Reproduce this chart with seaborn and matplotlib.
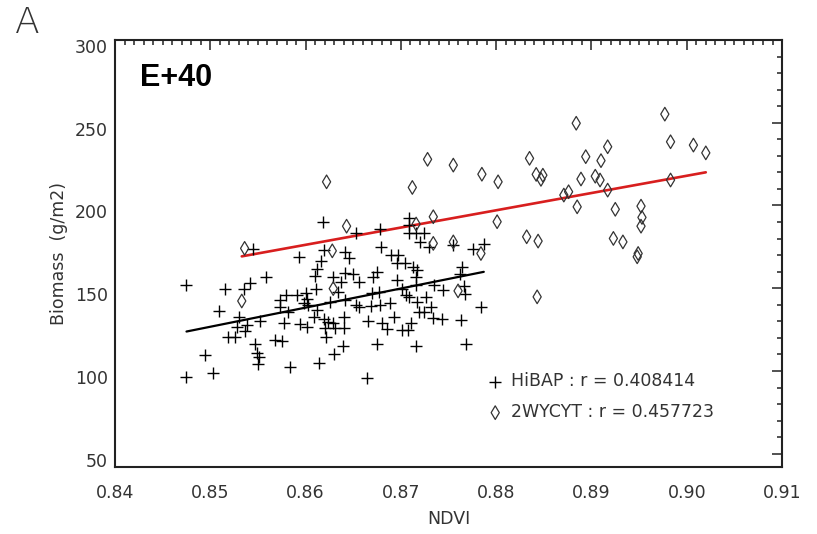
import pandas as pd
import seaborn as sns
import matplotlib.pyplot as plt
import matplotlib.transforms as mtransforms
from matplotlib.ticker import MultipleLocator, FormatStrFormatter

# HiBAP panel (+ markers)
hibap_ndvi = [
    0.8618, 0.8545, 0.8593, 0.8558, 0.8475, 0.8515, 0.8535, 0.8542, 0.8619, 0.8616,
    0.8612, 0.8610, 0.8611, 0.8509, 0.8579, 0.8591, 0.8600, 0.8601, 0.8573, 0.8573,
    0.8581, 0.8598, 0.8603, 0.8612, 0.8609, 0.8530, 0.8552, 0.8528, 0.8538, 0.8536,
    0.8519, 0.8526, 0.8577, 0.8594, 0.8601, 0.8619, 0.8620, 0.8621, 0.8568, 0.8575,
    0.8547, 0.8549, 0.8551, 0.8550, 0.8494, 0.8503, 0.8475, 0.8584, 0.8614, 0.8653,
    0.8678, 0.8709, 0.8709, 0.8708, 0.8716, 0.8724, 0.8720, 0.8729, 0.8755, 0.8776,
    0.8787, 0.8679, 0.8641, 0.8646, 0.8690, 0.8697, 0.8696, 0.8704, 0.8713, 0.8717,
    0.8764, 0.8762, 0.8675, 0.8671, 0.8641, 0.8650, 0.8629, 0.8656, 0.8637, 0.8696,
    0.8701, 0.8716, 0.8716, 0.8735, 0.8744, 0.8766, 0.8767, 0.8634, 0.8641, 0.8626,
    0.8670, 0.8677, 0.8678, 0.8669, 0.8689, 0.8653, 0.8656, 0.8705, 0.8708, 0.8717,
    0.8726, 0.8719, 0.8724, 0.8732, 0.8734, 0.8743, 0.8784, 0.8763, 0.8624, 0.8629,
    0.8631, 0.8640, 0.8640, 0.8665, 0.8680, 0.8685, 0.8693, 0.8701, 0.8707, 0.8711,
    0.8675, 0.8716, 0.8768, 0.8639, 0.8630, 0.8664,
]
hibap_biomass = [
    190.2, 173.5, 168.6, 156.9, 151.9, 149.8, 149.8, 152.9, 173.0, 166.6,
    161.4, 157.3, 149.8, 136.4, 145.8, 145.8, 146.9, 143.3, 142.9, 138.8,
    135.8, 140.8, 139.8, 136.8, 132.7, 132.7, 130.3, 126.6, 127.7, 124.2,
    120.3, 120.3, 128.8, 128.3, 126.6, 131.7, 125.7, 120.7, 118.6, 118.2,
    116.6, 110.6, 108.2, 104.5, 109.5, 98.9, 96.4, 102.5, 104.9, 183.2,
    185.5, 192.2, 188.1, 183.2, 183.2, 183.2, 178.0, 175.1, 176.1, 173.5,
    176.7, 175.1, 172.0, 168.0, 170.0, 170.0, 165.0, 165.0, 162.9, 161.0,
    162.9, 158.6, 159.9, 156.9, 159.0, 158.6, 156.9, 153.9, 153.9, 154.9,
    149.8, 156.5, 151.9, 151.9, 148.8, 151.3, 146.4, 147.8, 142.9, 141.7,
    146.9, 147.8, 139.8, 139.2, 140.8, 139.8, 138.4, 145.8, 144.5, 141.7,
    144.8, 135.8, 135.8, 138.4, 132.3, 131.7, 138.4, 131.1, 129.7, 128.8,
    125.7, 132.7, 125.7, 130.3, 129.1, 125.1, 132.7, 124.7, 124.7, 128.8,
    116.6, 115.2, 116.2, 115.2, 110.1, 96.0,
]

# 2WYCYT panel (diamond markers)
wycyt_ndvi = [
    0.8536, 0.8533, 0.8643, 0.8716, 0.8734, 0.8734, 0.8755, 0.8784, 0.8801, 0.8628,
    0.8629, 0.8760, 0.8622, 0.8728, 0.8755, 0.8712, 0.8785, 0.8802, 0.8977, 0.8884,
    0.8983, 0.9007, 0.9020, 0.8917, 0.8835, 0.8894, 0.8910, 0.8842, 0.8849, 0.8847,
    0.8889, 0.8904, 0.8909, 0.8876, 0.8871, 0.8917, 0.8983, 0.8885, 0.8925, 0.8952,
    0.8953, 0.8952, 0.8832, 0.8844, 0.8923, 0.8933, 0.8949, 0.8948, 0.8843,
]
wycyt_biomass = [
    174.1, 142.3, 187.5, 188.8, 193.2, 177.1, 178.0, 171.0, 190.2, 172.6,
    149.8, 148.4, 214.3, 227.9, 224.4, 210.9, 218.9, 214.3, 255.2, 249.7,
    238.5, 236.5, 231.8, 235.5, 228.5, 229.5, 227.1, 218.8, 218.3, 215.8,
    216.0, 217.7, 215.4, 208.3, 206.3, 209.3, 215.4, 199.2, 197.7, 199.6,
    192.8, 187.5, 181.1, 178.5, 180.1, 178.0, 171.0, 169.0, 144.8,
]

hibap_label = "HiBAP : r = 0.408414"
wycyt_label = "2WYCYT : r = 0.457723"
x_ticks = [0.84, 0.85, 0.86, 0.87, 0.88, 0.89, 0.90, 0.91]
y_ticks = [50, 100, 150, 200, 250, 300]

hibap = pd.DataFrame({"NDVI": hibap_ndvi, "Biomass": hibap_biomass})
wycyt = pd.DataFrame({"NDVI": wycyt_ndvi, "Biomass": wycyt_biomass})

sns.set_style("white")
plt.rcParams['font.family'] = ['DejaVu Sans']

ink = "#222222"
fig = plt.figure(figsize=(8.17, 5.34), dpi=100)
ax = fig.add_axes([0.1408, 0.1255, 0.8164, 0.7996])

sns.scatterplot(data=hibap, x="NDVI", y="Biomass", marker="+", s=80,
                color="black", linewidth=1.0, ax=ax, label=hibap_label, zorder=3)
sns.scatterplot(data=wycyt, x="NDVI", y="Biomass", marker="d", s=48,
                facecolors="none", edgecolor="#333333", linewidth=0.9,
                ax=ax, label=wycyt_label, zorder=3)

# fitted lines
sns.regplot(data=hibap, x="NDVI", y="Biomass", scatter=False, ci=None,
            color="black", line_kws={"lw": 1.6}, ax=ax)
sns.regplot(data=wycyt, x="NDVI", y="Biomass", scatter=False, ci=None,
            color="#d81e1e", line_kws={"lw": 1.9}, ax=ax)

ax.set_xlim(0.84, 0.91)
ax.set_ylim(42, 300)
ax.set_xticks(x_ticks)
ax.set_yticks(y_ticks)
ax.xaxis.set_major_formatter(FormatStrFormatter('%.2f'))
ax.xaxis.set_minor_locator(MultipleLocator(0.001))
ax.yaxis.set_minor_locator(MultipleLocator(10))
ax.tick_params(which='both', direction='in', top=True, right=True,
               color=ink, width=1.1, labelcolor="#333333", labelsize=12.5)
ax.tick_params(which='major', length=7)
ax.tick_params(which='minor', length=3.5)
ax.tick_params(axis='x', pad=12)
ax.tick_params(axis='y', pad=5)
for sp in ax.spines.values():
    sp.set_color(ink)
    sp.set_linewidth(1.5)

# nudge y tick labels down a bit like the original
shift = mtransforms.ScaledTranslation(0, -6 / 100, fig.dpi_scale_trans)
for lab in ax.get_yticklabels():
    lab.set_transform(lab.get_transform() + shift)

ax.set_xlabel("NDVI", fontsize=12.5, color="#333333", labelpad=6)
ax.set_ylabel("Biomass  (g/m2)", fontsize=12.5, color="#333333", labelpad=5)

ax.text(0.0375, 0.911, "E+40", transform=ax.transAxes, fontsize=22,
        fontweight='bold', family=['Liberation Sans', 'DejaVu Sans'],
        va='center', ha='left', color="black")
fig.text(27 / 817, 1 - 23 / 534, "A", fontsize=26, fontweight='light',
         ha='center', va='center', color="#333333")

ax.legend(loc="upper left", bbox_to_anchor=(0.557, 0.222), frameon=False,
          fontsize=12.5, handletextpad=0.4, labelspacing=0.75,
          handlelength=1.0, borderaxespad=0, borderpad=0,
          labelcolor="#333333")

fig.savefig("out.png", dpi=100)
